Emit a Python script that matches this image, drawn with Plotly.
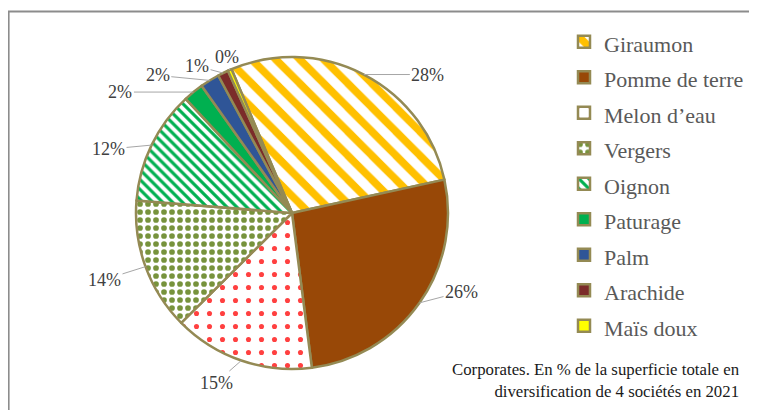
import math
import plotly.graph_objects as go

# ---- data ----
labels = ["Giraumon", "Pomme de terre", "Melon d\u2019eau", "Vergers", "Oignon",
          "Paturage", "Palm", "Arachide", "Ma\u00efs doux"]
values = [27.9, 26.4, 14.6, 13.7, 11.8, 2.1, 2.0, 1.1, 0.4]
note_lines = ["Corporates. En % de la superficie totale en",
              "diversification de 4 soci\u00e9t\u00e9s en 2021"]

# ---- styles ----
main_colors = ["#FFC000", "#984807", "#FF4040", "#77933C", "#00B050",
               "#00B050", "#2F5597", "#7B2C2A", "#FFFF00"]
pat_shapes = ["\\", "", ".", ".", "\\", "", "", "", ""]
pat_sizes = [17, 8, 13, 8, 7, 8, 8, 8, 8]
pat_solid = [0.45, 0.3, 0.12, 0.4, 0.45, 0.3, 0.3, 0.3, 0.3]
bg_colors = ["white" if s else c for s, c in zip(pat_shapes, main_colors)]
border = "#948A54"
SERIF = "Liberation Serif, Times New Roman, serif"

W, H = 757, 410
OFF = 8                      # page body margin in the browser
cx, cy, R = 292 - OFF, 213 - OFF, 156   # pie centre / radius in figure px
rotation = -22.8
# label offsets (px) from slice edge to label centre
lab_dx = [64, 42, -25, -41, -43, -73, -52, -26, -3]
lab_dy = [0, -11, 22, 13, 4, 0, -5, -7, -13]

fig = go.Figure()
fig.add_trace(go.Pie(
    labels=[f"<span style='font-size:22px'>{l}</span>" for l in labels],
    values=values,
    sort=False,
    direction="clockwise",
    rotation=rotation,
    textinfo="none",
    hoverinfo="label+percent",
    domain=dict(x=[(cx - R) / W, (cx + R) / W], y=[(H - cy - R) / H, (H - cy + R) / H]),
    marker=dict(
        colors=main_colors,
        line=dict(color=border, width=2.5),
        pattern=dict(shape=pat_shapes, fgcolor=main_colors, bgcolor=bg_colors,
                     size=pat_sizes, solidity=pat_solid, fillmode="replace"),
    ),
))

total = sum(values)
annotations = []
cum = 0.0
for i, v in enumerate(values):
    mid = rotation + (cum + v / 2) / total * 360.0
    cum += v
    th = math.radians(mid)
    ex = cx + R * math.sin(th)
    ey = cy - R * math.cos(th)
    annotations.append(dict(
        x=ex / W, y=1 - ey / H, xref="paper", yref="paper",
        text=f"{round(v / total * 100)}%",
        showarrow=True, arrowhead=0, arrowwidth=1, arrowcolor="#A6A6A6",
        standoff=0, ax=lab_dx[i], ay=lab_dy[i],
        font=dict(family=SERIF, size=18, color="#404040"),
    ))

annotations.append(dict(
    x=(742 - OFF) / W, y=1 - (380 - OFF) / H, xref="paper", yref="paper",
    xanchor="right", yanchor="middle", align="right", showarrow=False,
    text="<br>".join(note_lines),
    font=dict(family=SERIF, size=16.8, color="#1a1a1a"),
))

fig.update_layout(
    width=W, height=H,
    margin=dict(l=0, r=0, t=0, b=0),
    paper_bgcolor="white", plot_bgcolor="white",
    showlegend=True,
    legend=dict(
        x=(564 - OFF) / W, y=1 - (19 - OFF) / H, xanchor="left", yanchor="top",
        font=dict(family=SERIF, size=25, color="#595959"),
        bgcolor="rgba(0,0,0,0)", traceorder="normal",
    ),
    annotations=annotations,
    shapes=[dict(type="rect", xref="paper", yref="paper",
                 x0=0.6 / W, x1=1.02, y0=-0.02, y1=1 - 3.5 / H,
                 line=dict(color="#8C8C8C", width=2))],
)

fig.write_html("out.html")
